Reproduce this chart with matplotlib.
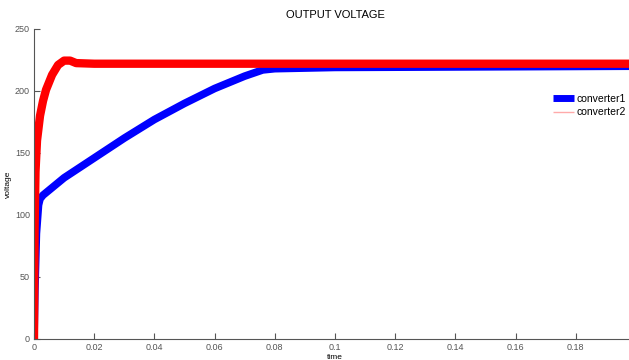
import matplotlib
matplotlib.use('Agg')
import matplotlib.pyplot as plt

plt.rcParams['font.family'] = ['Liberation Sans', 'DejaVu Sans']

# converter1 (blue)
t1 = [0, 0.0003, 0.0008, 0.0015, 0.002, 0.003, 0.005, 0.01, 0.02, 0.03, 0.04,
      0.05, 0.06, 0.07, 0.076, 0.08, 0.1, 0.15, 0.2]
v1 = [0, 40, 85, 108, 113, 116, 120, 130, 146, 162, 177,
      190, 202, 212, 217, 218, 219, 219.5, 220]

# converter2 (red)
t2 = [0, 0.0002, 0.0005, 0.001, 0.002, 0.003, 0.004, 0.006, 0.008, 0.010,
      0.012, 0.014, 0.02, 0.1, 0.2]
v2 = [0, 90, 135, 160, 180, 192, 201, 213, 221, 224.5,
      224.5, 222.5, 222, 222, 222]

xticks = [0, 0.02, 0.04, 0.06, 0.08, 0.1, 0.12, 0.14, 0.16, 0.18]
yticks = [0, 50, 100, 150, 200, 250]

fig = plt.figure(figsize=(6.29, 3.6), dpi=100)
ax = fig.add_axes([34/629, 21/360, 602/629, 310/360])

ax.plot(t1, v1, color='#0000ff', lw=5.5, solid_capstyle='butt', label='converter1')
ax.plot(t2, v2, color='#ff0000', lw=6, solid_capstyle='butt', label='converter2')

ax.set_xlim(0, 0.2)
ax.set_ylim(0, 250)
ax.set_xticks(xticks)
ax.set_xticklabels(['0' if x == 0 else ('%g' % x) for x in xticks])
ax.set_yticks(yticks)
ax.tick_params(direction='in', length=4, labelsize=6.5, colors='#555555', pad=3)
for s in ['top', 'right']:
    ax.spines[s].set_visible(False)
for s in ['left', 'bottom']:
    ax.spines[s].set_color('#555555')
    ax.spines[s].set_linewidth(0.8)

ax.set_title('OUTPUT VOLTAGE', fontsize=8, pad=8)
ax.set_xlabel('time', fontsize=6, labelpad=1)
ax.set_ylabel('voltage', fontsize=6, labelpad=2)

leg = ax.legend(loc='upper left', bbox_to_anchor=(0.862, 0.79), frameon=False,
                borderpad=0, borderaxespad=0, fontsize=7.5, handlelength=2.0,
                handletextpad=0.3, labelspacing=0.3)
leg.get_lines()[0].set_linewidth(5)
leg.get_lines()[1].set_linewidth(1)
leg.get_lines()[1].set_color('#ffaaaa')

fig.savefig('out.png', dpi=100)
